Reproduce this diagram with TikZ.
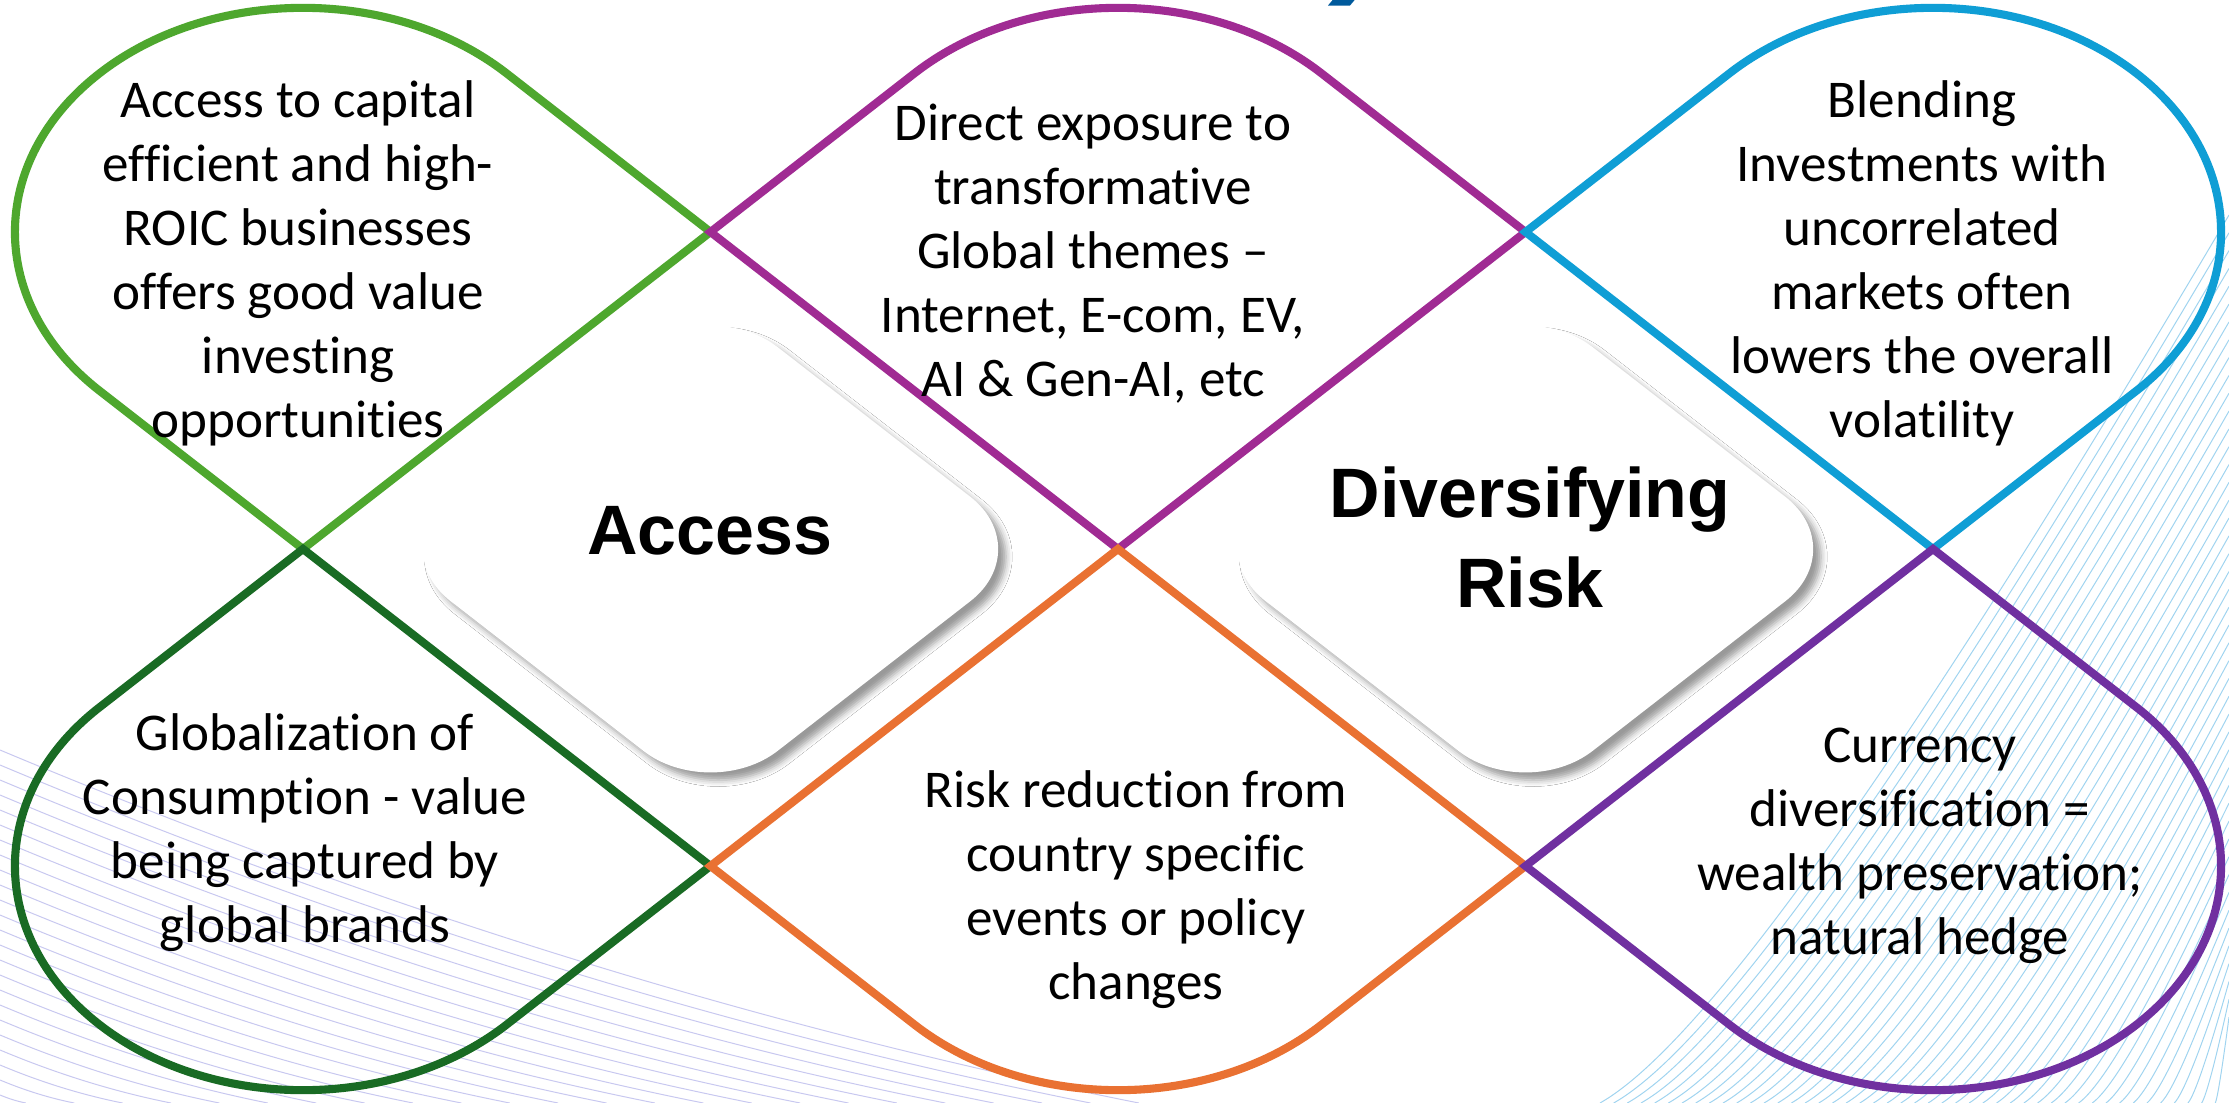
\documentclass[tikz,border=0pt]{standalone}
\usepackage{fontspec}
\setmainfont{Carlito}[Ligatures=NoCommon]
\newfontfamily\headfont{Liberation Sans}
\usetikzlibrary{shadows.blur}

\definecolor{lgreen}{HTML}{4EA72E}
\definecolor{dgreen}{HTML}{196B24}
\definecolor{mag}{HTML}{A02B93}
\definecolor{sky}{HTML}{0F9ED5}
\definecolor{orng}{HTML}{E97132}
\definecolor{vio}{HTML}{7030A0}
\definecolor{navy}{HTML}{005A9C}
\definecolor{wavesky}{RGB}{160,212,240}
\definecolor{wavelav}{RGB}{200,200,240}

\begin{document}
\begin{tikzpicture}[x=0.01cm, y=-0.01cm,
  lobe/.style={line width=2.3pt, line join=miter},
  bodytext/.style={align=center, inner sep=0pt, font=\fontsize{15.1pt}{18.2pt}\selectfont},
  headtext/.style={align=center, inner sep=0pt, font=\headfont\bfseries\fontsize{19.9pt}{25.6pt}\selectfont},
  card/.style={fill=white, rounded corners=0.85cm,
    blur shadow={shadow xshift=2.2pt, shadow yshift=-2.2pt, shadow blur radius=1.8pt, shadow opacity=40}},
  wave/.style={line width=0.28pt}]

\useasboundingbox (0,0) rectangle (2229,1103);
\fill[white] (0,0) rectangle (2229,1103);

% thin decorative wave lines
\begin{scope}
\clip (0,0) rectangle (2229,1103);
% right-hand fan
\foreach \i in {0,...,46} {
  \pgfmathsetmacro\u{\i/46}
  \pgfmathsetmacro\sy{215+820*\u}
  \pgfmathsetmacro\ex{1600+629*\u}
  \pgfmathsetmacro\cx{\ex+0.25*(2229-\ex)}
  \pgfmathsetmacro\cy{\sy+0.9*(1103-\sy)}
  \pgfmathsetmacro\ax{2229+2/3*(\cx-2229)}
  \pgfmathsetmacro\ay{\sy+2/3*(\cy-\sy)}
  \pgfmathsetmacro\bx{\ex+2/3*(\cx-\ex)}
  \pgfmathsetmacro\by{1103+2/3*(\cy-1103)}
  \draw[wave, wavesky] (2229,\sy) .. controls (\ax,\ay) and (\bx,\by) .. (\ex,1103);
}
% lower-left sweep: start slope 0.42, end slope 0.2
\foreach \i in {0,...,23} {
  \pgfmathsetmacro\sy{750+15*\i}
  \pgfmathsetmacro\L{2*(1103-\sy)/0.62}
  \pgfmathsetmacro\cx{\L/2}
  \pgfmathsetmacro\cy{\sy+0.42*\L/2}
  \pgfmathsetmacro\ax{2/3*\cx}
  \pgfmathsetmacro\ay{\sy+2/3*(\cy-\sy)}
  \pgfmathsetmacro\bx{\L+2/3*(\cx-\L)}
  \pgfmathsetmacro\by{1103+2/3*(\cy-1103)}
  \draw[wave, wavelav] (0,\sy) .. controls (\ax,\ay) and (\bx,\by) .. (\L,1103);
}
\end{scope}

% bottom of the heading glyph above the frame
\fill[navy] (1336,-4) -- (1358,-4) -- (1350,5.5) -- (1328,5.5) -- cycle;

% six lobes on a diamond lattice
\draw[lobe, lgreen] (710.5,232) -- (506.75,73.5)
  arc[start angle=-45, end angle=-225, x radius=288.1, y radius=224.2] -- (303,549) -- cycle;
\draw[lobe, mag] (710.5,232) -- (914.25,73.5)
  arc[start angle=-135, end angle=-45, x radius=288.1, y radius=224.2] -- (1525.5,232) -- (1118,549) -- cycle;
\draw[lobe, sky] (1525.5,232) -- (1729.25,73.5)
  arc[start angle=-135, end angle=45, x radius=288.1, y radius=224.2] -- (1933,549) -- cycle;
\draw[lobe, dgreen] (303,549) -- (710.5,866) -- (506.75,1024.5)
  arc[start angle=45, end angle=225, x radius=288.1, y radius=224.2] -- cycle;
\draw[lobe, orng] (710.5,866) -- (1118,549) -- (1525.5,866) -- (1321.75,1024.5)
  arc[start angle=45, end angle=135, x radius=288.1, y radius=224.2] -- cycle;
\draw[lobe, vio] (1933,549) -- (1525.5,866) -- (1729.25,1024.5)
  arc[start angle=135, end angle=-45, x radius=288.1, y radius=224.2] -- cycle;

% white cards
\path[card] (547,422) -- (710.5,295) -- (1037.5,549) -- (710.5,803) -- (383.5,549) -- cycle;
\path[card] (1362,422) -- (1525.5,295) -- (1852.5,549) -- (1525.5,803) -- (1198.5,549) -- cycle;

% texts
\node[bodytext] (capital) at (298,263) {Access to capital\\efficient and high-\\ROIC businesses\\offers good value\\investing\\opportunities};
\node[bodytext] (themes) at (1093,254) {Direct exposure to\\transformative\\Global themes –\\Internet, E-com, EV,\\AI \& Gen-AI, etc};
\node[bodytext] (blending) at (1922,263) {Blending\\Investments with\\uncorrelated\\markets often\\lowers the overall\\volatility};
\node[bodytext] (consumption) at (305,833) {Globalization of\\Consumption - value\\being captured by\\global brands};
\node[bodytext] (reduction) at (1136,890) {Risk reduction from\\country specific\\events or policy\\changes};
\node[bodytext] (currency) at (1920,846) {Currency\\diversification =\\wealth preservation;\\natural hedge};
\node[headtext] (access) at (710,531) {Access};
\node[headtext] (diversifying) at (1530,537) {Diversifying\\Risk};
\end{tikzpicture}
\end{document}
